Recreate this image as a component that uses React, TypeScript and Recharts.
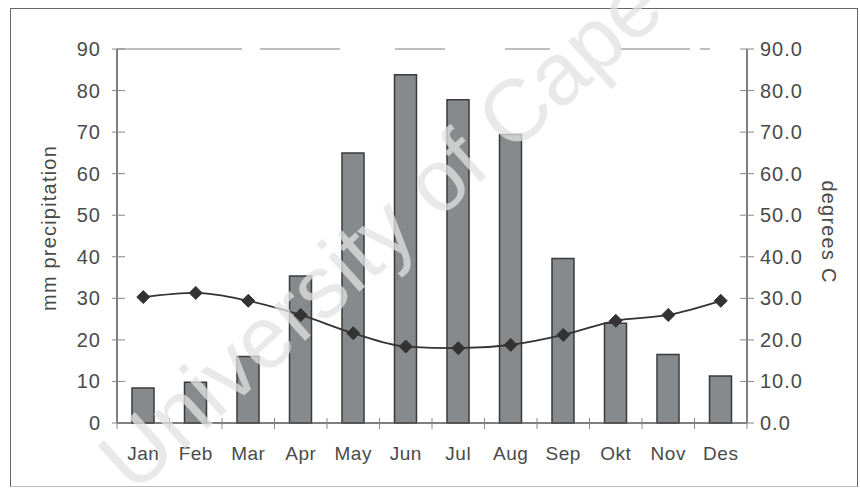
import { Bar, ComposedChart, Line, ReferenceLine, XAxis, YAxis } from "recharts";

const months = ["Jan", "Feb", "Mar", "Apr", "May", "Jun", "Jul", "Aug", "Sep", "Okt", "Nov", "Des"];
const precipitation = [8.4, 9.8, 16, 35.4, 65, 83.8, 77.8, 69.4, 39.6, 24, 16.5, 11.3];
const temperature = [30.3, 31.3, 29.4, 26, 21.6, 18.4, 18, 18.8, 21.2, 24.6, 26, 29.4];
const leftTicks = [0, 10, 20, 30, 40, 50, 60, 70, 80, 90];
const rightTicks = [0, 10, 20, 30, 40, 50, 60, 70, 80, 90];

const data = months.map((month, i) => ({
  month,
  precipitation: precipitation[i],
  temperature: temperature[i],
}));

const W = 860;
const H = 490;
const margin = { top: 49, right: 58, bottom: 37, left: 62 };
const plotWidth = W - margin.left - margin.right - 55 - 55;
const halfBand = plotWidth / months.length / 2;

const FONT = "'Liberation Sans', Arial, sans-serif";
const TEXT = "#4a4a4a";
const AXIS = "#555";

function LeftTick({ x, y, payload }: any) {
  return (
    <g>
      <line x1={x - 5} x2={x + 8} y1={y} y2={y} stroke="#888" strokeWidth={1} />
      <text x={x - 16} y={y} dy={7} textAnchor="end" fontSize={20} fill={TEXT} fontFamily={FONT} letterSpacing={1}>
        {payload.value}
      </text>
    </g>
  );
}

function RightTick({ x, y, payload }: any) {
  return (
    <g>
      <line x1={x - 7} x2={x + 7} y1={y} y2={y} stroke="#888" strokeWidth={1} />
      <text x={x + 13} y={y} dy={7} textAnchor="start" fontSize={20} fill={TEXT} fontFamily={FONT} letterSpacing={1}>
        {Number(payload.value).toFixed(1)}
      </text>
    </g>
  );
}

// month label plus a small tick on each category boundary
function MonthTick({ x, y, payload, index }: any) {
  return (
    <g>
      <line x1={x - halfBand} x2={x - halfBand} y1={y - 5} y2={y + 6} stroke="#888" strokeWidth={1} />
      {index === months.length - 1 && (
        <line x1={x + halfBand} x2={x + halfBand} y1={y - 5} y2={y + 6} stroke="#888" strokeWidth={1} />
      )}
      <text x={x} y={y} dy={37} textAnchor="middle" fontSize={19} fill={TEXT} fontFamily={FONT} letterSpacing={0.5}>
        {payload.value}
      </text>
    </g>
  );
}

function Diamond({ cx, cy }: any) {
  const r = 6.5;
  return (
    <path
      d={`M${cx},${cy - r} L${cx + r},${cy} L${cx},${cy + r} L${cx - r},${cy} Z`}
      fill="#333"
      stroke="#333"
      strokeWidth={1}
    />
  );
}

export default function App() {
  return (
    <div style={{ position: "absolute", top: 0, left: 0, width: W, height: H, background: "#fff" }}>
      <div
        style={{
          position: "absolute",
          left: 10,
          top: 8,
          width: 846,
          height: 477,
          border: "1.5px solid #666",
          borderBottomColor: "#bbb",
        }}
      />
      <ComposedChart width={W} height={H} data={data} margin={margin} style={{ position: "absolute", top: 0, left: 0 }}>
        <XAxis
          dataKey="month"
          xAxisId="m"
          tick={<MonthTick />}
          tickLine={false}
          tickSize={0}
          tickMargin={0}
          stroke={AXIS}
          strokeWidth={1.5}
          height={30}
          interval={0}
        />
        <YAxis
          yAxisId="left"
          orientation="left"
          domain={[0, 90]}
          ticks={leftTicks}
          tick={<LeftTick />}
          tickLine={false}
          tickSize={0}
          tickMargin={0}
          stroke={AXIS}
          strokeWidth={1.5}
          width={55}
          label={{
            value: "mm precipitation",
            angle: -90,
            position: "insideLeft",
            offset: 0,
            dx: -13,
            dy: -8,
            style: { fontSize: 20, fill: TEXT, fontFamily: FONT, letterSpacing: 1.2, textAnchor: "middle" },
          }}
        />
        <YAxis
          yAxisId="right"
          orientation="right"
          domain={[0, 90]}
          ticks={rightTicks}
          tick={<RightTick />}
          tickLine={false}
          tickSize={0}
          tickMargin={0}
          stroke={AXIS}
          strokeWidth={1.5}
          width={55}
          label={{
            value: "degrees C",
            angle: 90,
            position: "insideRight",
            offset: 0,
            dx: 27,
            dy: -4,
            style: { fontSize: 20, fill: TEXT, fontFamily: FONT, letterSpacing: 1.2, textAnchor: "middle" },
          }}
        />
        <ReferenceLine
          yAxisId="left"
          xAxisId="m"
          y={90}
          stroke="#aaa"
          strokeWidth={1.5}
          strokeDasharray="125 18 80 55 50 60 45 70 70 10 10 40"
        />
        <Bar
          dataKey="precipitation"
          yAxisId="left"
          xAxisId="m"
          barSize={22}
          fill="#868a8d"
          stroke="#3a3a3a"
          strokeWidth={1.5}
          isAnimationActive={false}
        />
        <Line
          dataKey="temperature"
          yAxisId="right"
          xAxisId="m"
          type="monotone"
          stroke="#333"
          strokeWidth={1.8}
          dot={<Diamond />}
          activeDot={false}
          isAnimationActive={false}
        />
      </ComposedChart>
      <svg width={W} height={H} style={{ position: "absolute", top: 0, left: 0, pointerEvents: "none" }}>
        <text
          x={380}
          y={232}
          transform="rotate(-42 380 232)"
          textAnchor="middle"
          dominantBaseline="central"
          fontSize={88}
          fontFamily={FONT}
          fill="#e2e2e2"
          opacity={0.75}
        >
          University of Cape
        </text>
      </svg>
    </div>
  );
}
